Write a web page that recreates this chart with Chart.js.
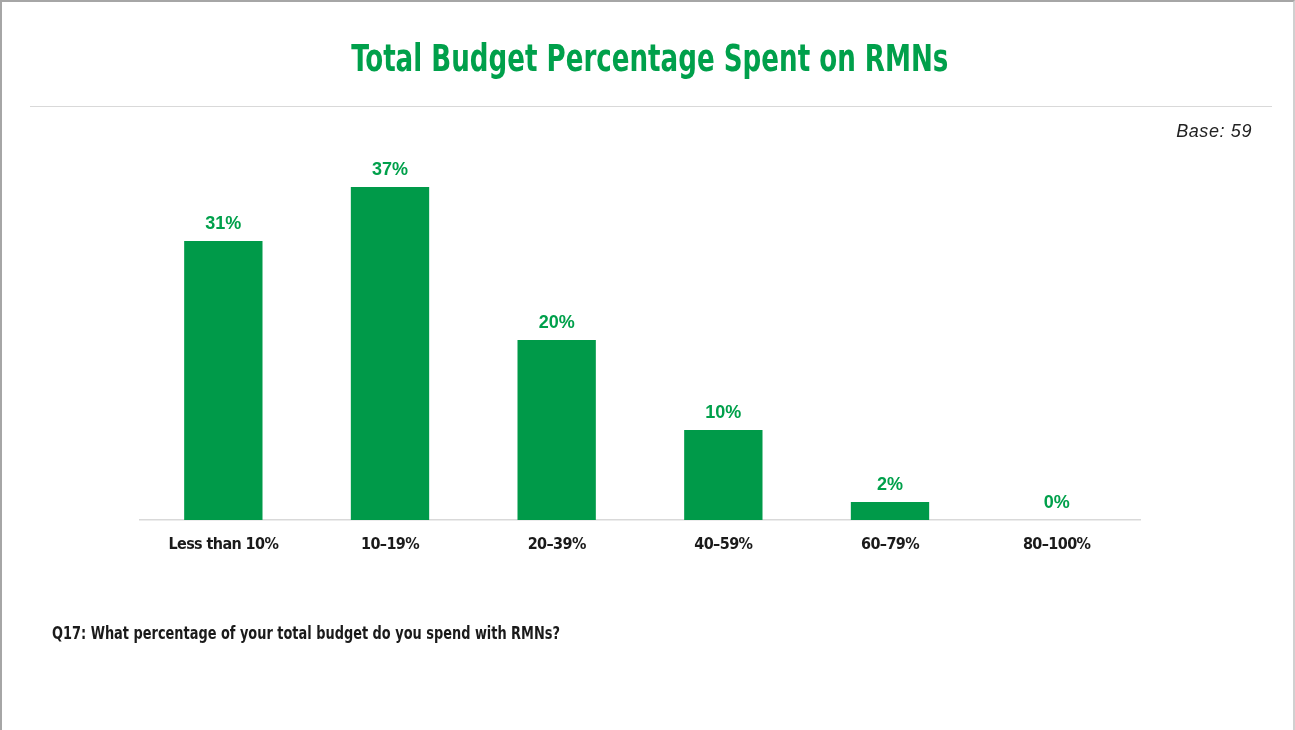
<!DOCTYPE html>
<html>
<head>
<meta charset="utf-8">
<title>Total Budget Percentage Spent on RMNs</title>
<script src="https://cdn.jsdelivr.net/npm/chart.js@4/dist/chart.umd.min.js"></script>
<style>
  html, body { margin: 0; padding: 0; background: #fff; }
  #page {
    position: relative; width: 1295px; height: 730px; overflow: hidden;
    box-sizing: border-box;
    border-top: 2px solid #a6a6a6; border-left: 2px solid #a6a6a6; border-right: 2px solid #d0d0d0;
  }
  #chart { position: absolute; left: -2px; top: -2px; }
  .txt { position: absolute; white-space: nowrap; }
  #title {
    left: 0; width: 1295px; top: 35px; text-align: center;
    font-family: "DejaVu Sans Condensed", "DejaVu Sans", sans-serif;
    font-stretch: condensed;
    font-weight: bold; font-size: 37px; line-height: 44px; color: #00A04B;
    transform: scaleX(0.785); transform-origin: 649px 0;
  }
  #rule { position: absolute; left: 28px; top: 104px; width: 1242px; height: 0; border-top: 1.5px solid #d9d9d9; }
  #base {
    right: 41px; top: 119px;
    font-family: "Liberation Sans", Arial, sans-serif; font-style: italic;
    font-size: 18px; line-height: 20px; letter-spacing: 0.6px; color: #222;
  }
  #note {
    left: 50px; top: 621px;
    font-family: "DejaVu Sans Condensed", "DejaVu Sans", sans-serif;
    font-stretch: condensed;
    font-weight: bold; font-size: 17px; line-height: 20px; color: #1a1a1a;
    transform: scaleX(0.845); transform-origin: 0 0;
  }
</style>
</head>
<body>
<div id="page">
  <canvas id="chart" width="1295" height="730"></canvas>
  <div id="title" class="txt">Total Budget Percentage Spent on RMNs</div>
  <div id="rule"></div>
  <div id="base" class="txt">Base: 59</div>
  <div id="note" class="txt">Q17: What percentage of your total budget do you spend with RMNs?</div>
</div>
<script>
// Share of total budget spent with retail media networks
const categories = ["Less than 10%", "10–19%", "20–39%", "40–59%", "60–79%", "80–100%"];
const shares = [31, 37, 20, 10, 2, 0];
const valueLabels = ["31%", "37%", "20%", "10%", "2%", "0%"];

const GREEN = "#009A49";
const NARROW = '"DejaVu Sans Condensed", "DejaVu Sans", sans-serif';

// Tighter letter spacing for the category labels under the axis
const condensedTicks = {
  id: "condensedTicks",
  beforeDraw(chart) { chart.ctx.letterSpacing = "-0.6px"; },
  afterDatasetsDraw(chart) { chart.ctx.letterSpacing = "0px"; }
};

// Writes each bar's percentage just above its top edge
const barValueLabels = {
  id: "barValueLabels",
  afterDatasetsDraw(chart) {
    const ctx = chart.ctx;
    const meta = chart.getDatasetMeta(0);
    ctx.save();
    ctx.letterSpacing = "0px";
    ctx.font = 'bold 18px "Liberation Sans", Arial, sans-serif';
    ctx.fillStyle = "#00A04B";
    ctx.textAlign = "center";
    ctx.textBaseline = "alphabetic";
    meta.data.forEach((bar, i) => {
      ctx.fillText(valueLabels[i], bar.x, bar.y - 12);
    });
    ctx.restore();
  }
};

new Chart(document.getElementById("chart"), {
  type: "bar",
  data: {
    labels: categories,
    datasets: [{
      data: shares,
      backgroundColor: GREEN,
      borderWidth: 0,
      categoryPercentage: 1,
      barPercentage: 0.47
    }]
  },
  options: {
    responsive: false,
    animation: false,
    events: [],
    layout: { padding: { left: 140, right: 155, top: 160, bottom: 170 } },
    plugins: { legend: { display: false }, tooltip: { enabled: false }, title: { display: false } },
    scales: {
      x: {
        grid: { display: false, drawTicks: false },
        border: { display: true, color: "#d9d9d9", width: 1.5 },
        ticks: {
          color: "#1a1a1a",
          padding: 15,
          font: { family: NARROW, weight: "bold", size: 16 }
        },
        afterFit(scale) { scale.height = 40; }
      },
      y: {
        display: false,
        min: 0,
        max: 40
      }
    }
  },
  plugins: [condensedTicks, barValueLabels]
});
</script>
</body>
</html>
